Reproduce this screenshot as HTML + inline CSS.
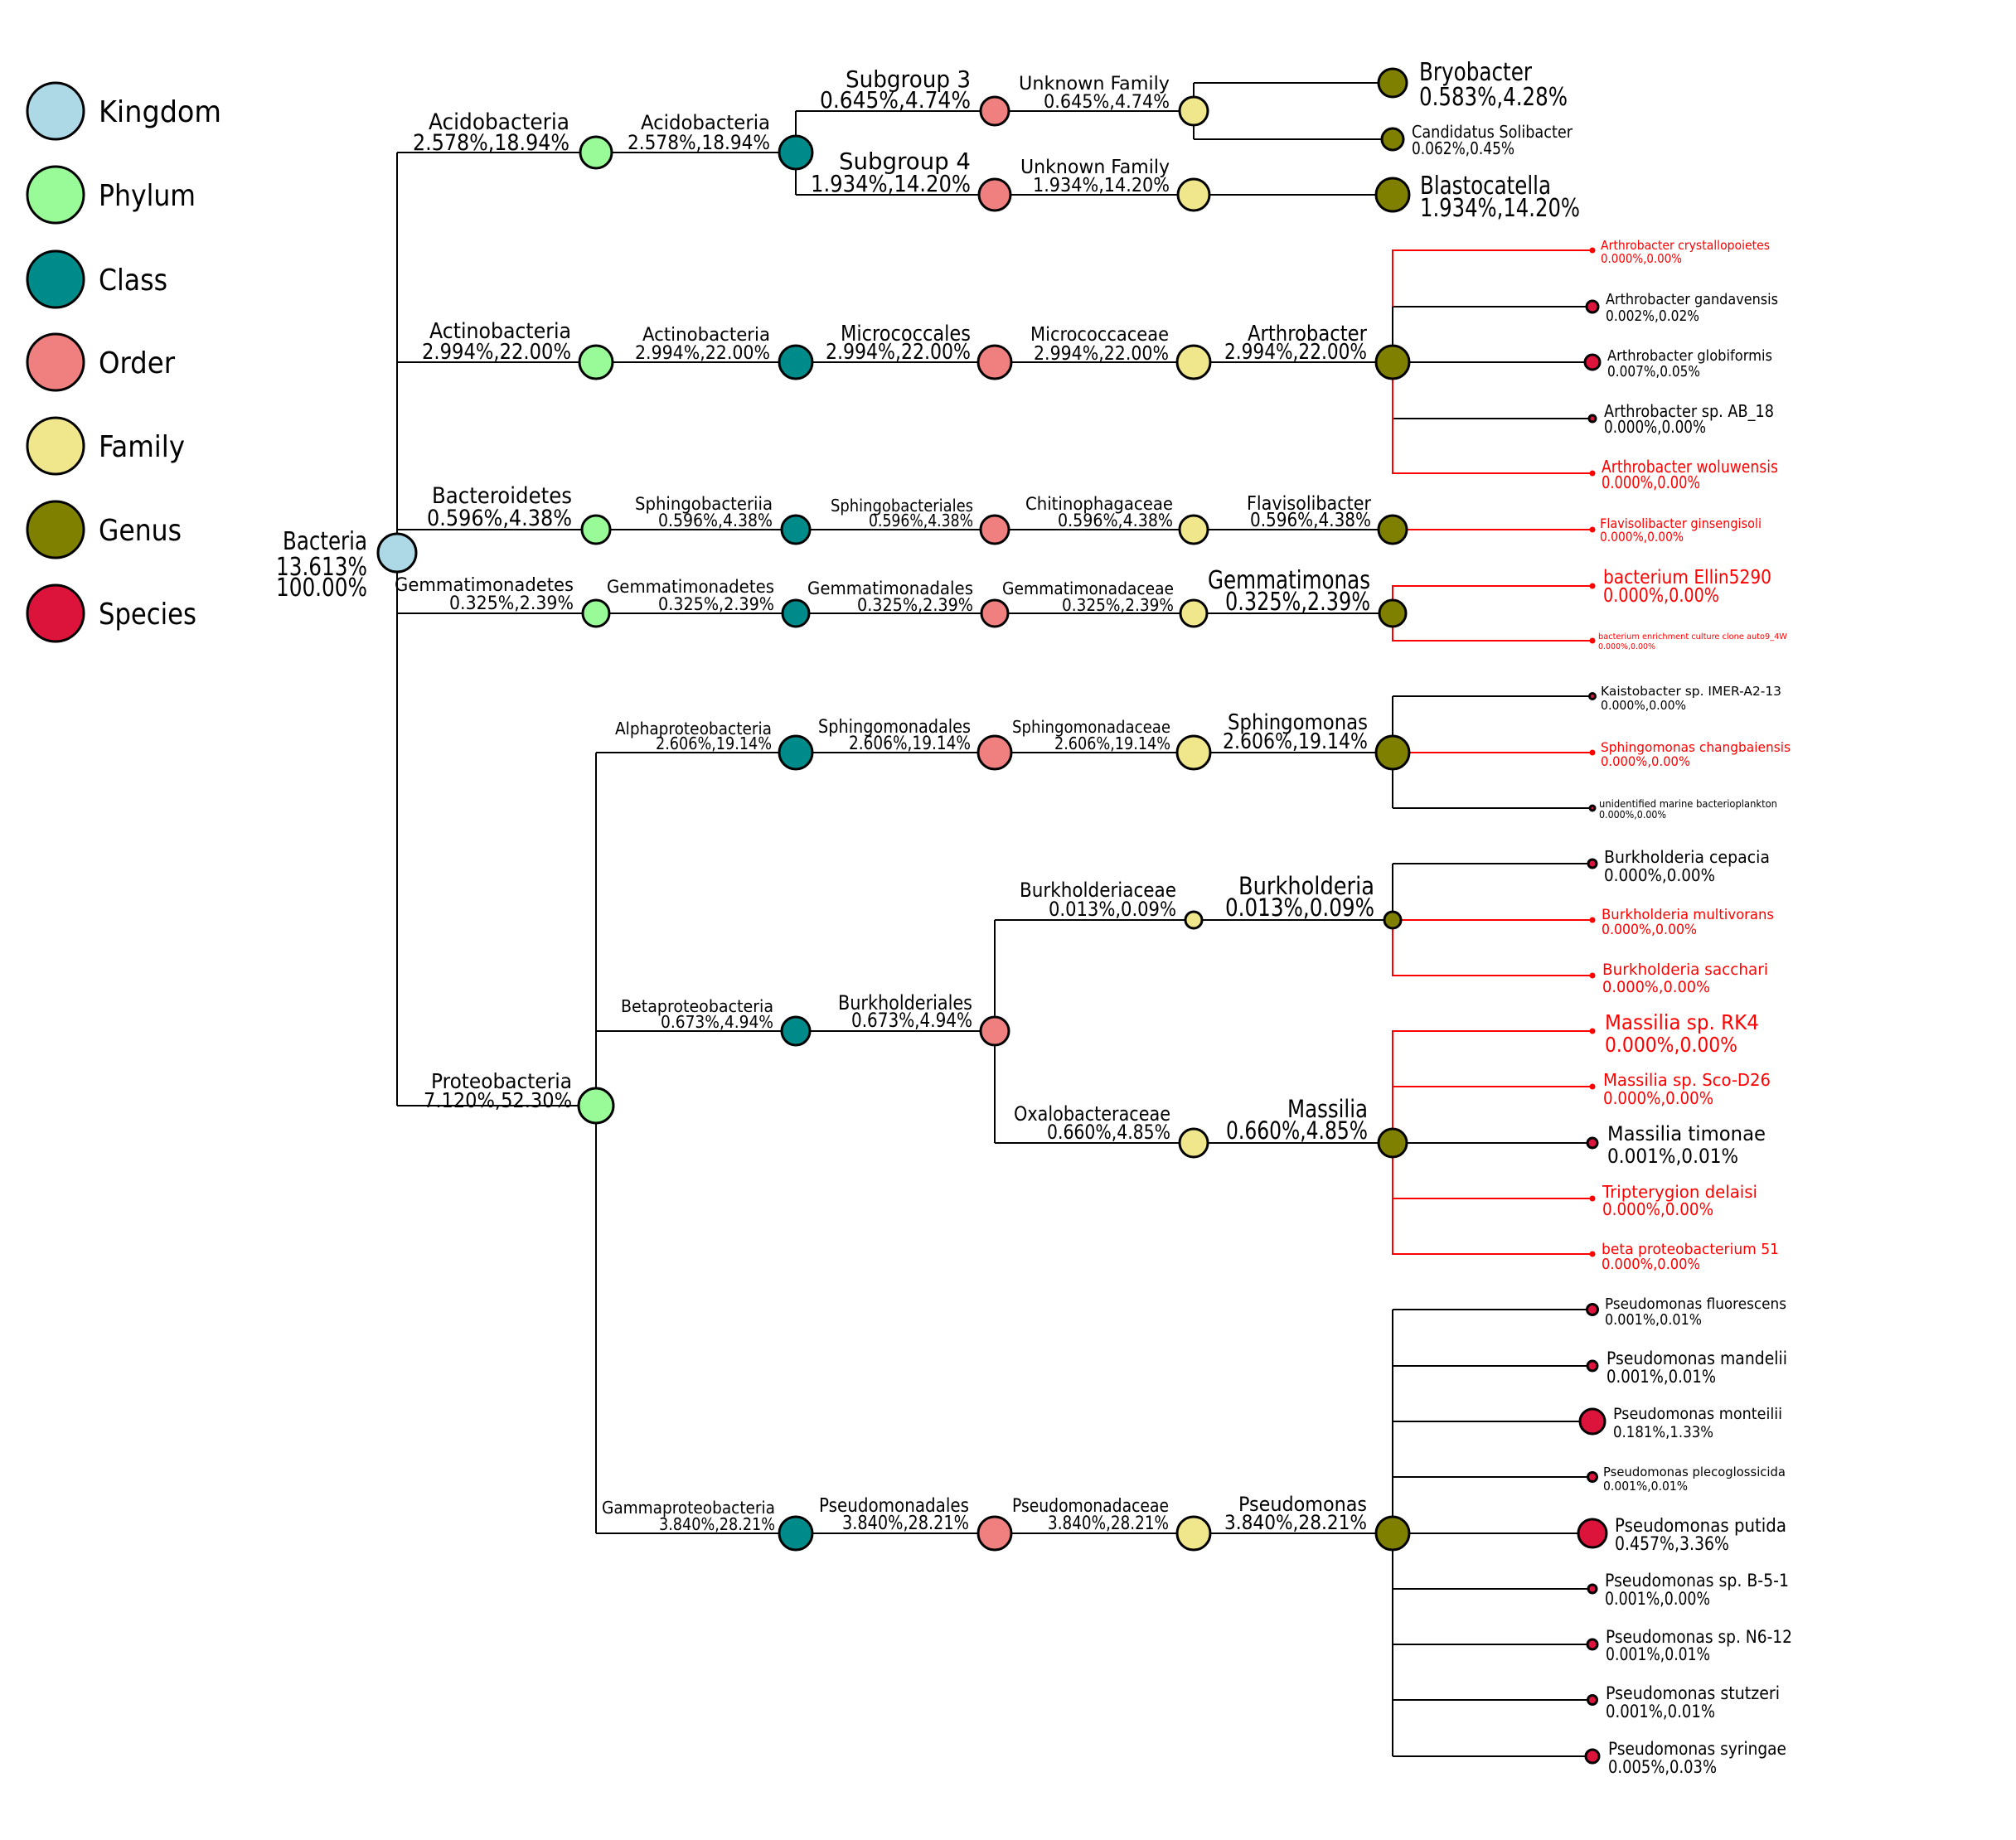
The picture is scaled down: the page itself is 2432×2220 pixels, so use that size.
<!DOCTYPE html>
<html><head><meta charset="utf-8"><style>
html,body{margin:0;padding:0;background:#fff;}
svg{display:block;font-family:"DejaVu Sans Condensed","Liberation Sans Narrow","Liberation Sans",sans-serif;}
</style></head><body>
<svg width="2432" height="2220" viewBox="0 0 2432 2220" xmlns="http://www.w3.org/2000/svg">
<g stroke="#000" stroke-width="2" fill="none">
<!-- root vertical -->
<line x1="479" y1="184" x2="479" y2="1334"/>
<line x1="479" y1="184" x2="719" y2="184"/>
<line x1="479" y1="437" x2="719" y2="437"/>
<line x1="479" y1="639" x2="719" y2="639"/>
<line x1="479" y1="740" x2="719" y2="740"/>
<line x1="479" y1="1334" x2="719" y2="1334"/>
<!-- phylum -> class -->
<line x1="719" y1="184" x2="960" y2="184"/>
<line x1="719" y1="437" x2="960" y2="437"/>
<line x1="719" y1="639" x2="960" y2="639"/>
<line x1="719" y1="740" x2="960" y2="740"/>
<line x1="719" y1="908" x2="719" y2="1850"/>
<line x1="719" y1="908" x2="960" y2="908"/>
<line x1="719" y1="1244" x2="960" y2="1244"/>
<line x1="719" y1="1850" x2="960" y2="1850"/>
<!-- class -> order -->
<line x1="960" y1="134" x2="960" y2="235"/>
<line x1="960" y1="134" x2="1200" y2="134"/>
<line x1="960" y1="235" x2="1200" y2="235"/>
<line x1="960" y1="437" x2="1200" y2="437"/>
<line x1="960" y1="639" x2="1200" y2="639"/>
<line x1="960" y1="740" x2="1200" y2="740"/>
<line x1="960" y1="908" x2="1200" y2="908"/>
<line x1="960" y1="1244" x2="1200" y2="1244"/>
<line x1="960" y1="1850" x2="1200" y2="1850"/>
<!-- order -> family -->
<line x1="1200" y1="134" x2="1440" y2="134"/>
<line x1="1200" y1="235" x2="1440" y2="235"/>
<line x1="1200" y1="437" x2="1440" y2="437"/>
<line x1="1200" y1="639" x2="1440" y2="639"/>
<line x1="1200" y1="740" x2="1440" y2="740"/>
<line x1="1200" y1="908" x2="1440" y2="908"/>
<line x1="1200" y1="1110" x2="1200" y2="1379"/>
<line x1="1200" y1="1110" x2="1440" y2="1110"/>
<line x1="1200" y1="1379" x2="1440" y2="1379"/>
<line x1="1200" y1="1850" x2="1440" y2="1850"/>
<!-- family -> genus -->
<line x1="1440" y1="100" x2="1440" y2="168"/>
<line x1="1440" y1="100" x2="1680" y2="100"/>
<line x1="1440" y1="168" x2="1680" y2="168"/>
<line x1="1440" y1="235" x2="1680" y2="235"/>
<line x1="1440" y1="437" x2="1680" y2="437"/>
<line x1="1440" y1="639" x2="1680" y2="639"/>
<line x1="1440" y1="740" x2="1680" y2="740"/>
<line x1="1440" y1="908" x2="1680" y2="908"/>
<line x1="1440" y1="1110" x2="1680" y2="1110"/>
<line x1="1440" y1="1379" x2="1680" y2="1379"/>
<line x1="1440" y1="1850" x2="1680" y2="1850"/>
<!-- genus -> species black -->
<line x1="1680" y1="370" x2="1680" y2="437"/>
<line x1="1680" y1="370" x2="1920" y2="370"/>
<line x1="1680" y1="437" x2="1920" y2="437"/>
<line x1="1680" y1="505" x2="1920" y2="505"/>
<line x1="1680" y1="840" x2="1680" y2="975"/>
<line x1="1680" y1="840" x2="1920" y2="840"/>
<line x1="1680" y1="975" x2="1920" y2="975"/>
<line x1="1680" y1="1042" x2="1680" y2="1110"/>
<line x1="1680" y1="1042" x2="1920" y2="1042"/>
<line x1="1680" y1="1379" x2="1920" y2="1379"/>
<line x1="1680" y1="1580" x2="1680" y2="2119"/>
<line x1="1680" y1="1580" x2="1920" y2="1580"/>
<line x1="1680" y1="1648" x2="1920" y2="1648"/>
<line x1="1680" y1="1715" x2="1920" y2="1715"/>
<line x1="1680" y1="1782" x2="1920" y2="1782"/>
<line x1="1680" y1="1850" x2="1920" y2="1850"/>
<line x1="1680" y1="1917" x2="1920" y2="1917"/>
<line x1="1680" y1="1984" x2="1920" y2="1984"/>
<line x1="1680" y1="2051" x2="1920" y2="2051"/>
<line x1="1680" y1="2119" x2="1920" y2="2119"/>
</g>
<g stroke="#ff0000" stroke-width="2" fill="none">
<polyline points="1680,370 1680,302 1920,302"/>
<polyline points="1680,437 1680,571 1920,571"/>
<line x1="1680" y1="639" x2="1920" y2="639"/>
<polyline points="1680,740 1680,707 1920,707"/>
<polyline points="1680,740 1680,773 1920,773"/>
<line x1="1680" y1="908" x2="1920" y2="908"/>
<polyline points="1680,1110 1680,1177 1920,1177"/>
<line x1="1680" y1="1110" x2="1920" y2="1110"/>
<polyline points="1680,1379 1680,1244 1920,1244"/>
<line x1="1680" y1="1311" x2="1920" y2="1311"/>
<polyline points="1680,1379 1680,1513 1920,1513"/>
<line x1="1680" y1="1446" x2="1920" y2="1446"/>
</g>
<!-- red dots -->
<g fill="#ff0000">
<circle cx="1921" cy="302" r="3.5"/><circle cx="1921" cy="571" r="3.5"/><circle cx="1921" cy="639" r="3.5"/>
<circle cx="1921" cy="707" r="3.5"/><circle cx="1921" cy="773" r="3.5"/><circle cx="1921" cy="908" r="3.5"/>
<circle cx="1921" cy="1110" r="3.5"/><circle cx="1921" cy="1177" r="3.5"/><circle cx="1921" cy="1244" r="3.5"/>
<circle cx="1921" cy="1311" r="3.5"/><circle cx="1921" cy="1446" r="3.5"/><circle cx="1921" cy="1513" r="3.5"/>
</g>
<!-- nodes -->
<g stroke="#000" stroke-width="3">
<circle cx="67" cy="134" r="34" fill="#add8e6"/>
<circle cx="67" cy="235" r="34" fill="#98fb98"/>
<circle cx="67" cy="337" r="34" fill="#008b8b"/>
<circle cx="67" cy="437" r="34" fill="#f08080"/>
<circle cx="67" cy="538" r="34" fill="#f0e68c"/>
<circle cx="67" cy="639" r="34" fill="#808000"/>
<circle cx="67" cy="740" r="34" fill="#dc143c"/>

<circle cx="479" cy="667" r="23" fill="#add8e6"/>

<circle cx="719" cy="184" r="19" fill="#98fb98"/>
<circle cx="719" cy="437" r="20" fill="#98fb98"/>
<circle cx="719" cy="639" r="17" fill="#98fb98"/>
<circle cx="719" cy="740" r="16" fill="#98fb98"/>
<circle cx="719" cy="1334" r="21" fill="#98fb98"/>

<circle cx="960" cy="184" r="20" fill="#008b8b"/>
<circle cx="960" cy="437" r="20" fill="#008b8b"/>
<circle cx="960" cy="639" r="17" fill="#008b8b"/>
<circle cx="960" cy="740" r="16" fill="#008b8b"/>
<circle cx="960" cy="908" r="20" fill="#008b8b"/>
<circle cx="960" cy="1244" r="17" fill="#008b8b"/>
<circle cx="960" cy="1850" r="20" fill="#008b8b"/>

<circle cx="1200" cy="134" r="17" fill="#f08080"/>
<circle cx="1200" cy="235" r="19" fill="#f08080"/>
<circle cx="1200" cy="437" r="20" fill="#f08080"/>
<circle cx="1200" cy="639" r="17" fill="#f08080"/>
<circle cx="1200" cy="740" r="16" fill="#f08080"/>
<circle cx="1200" cy="908" r="20" fill="#f08080"/>
<circle cx="1200" cy="1244" r="17" fill="#f08080"/>
<circle cx="1200" cy="1850" r="20" fill="#f08080"/>

<circle cx="1440" cy="134" r="17" fill="#f0e68c"/>
<circle cx="1440" cy="235" r="19" fill="#f0e68c"/>
<circle cx="1440" cy="437" r="20" fill="#f0e68c"/>
<circle cx="1440" cy="639" r="17" fill="#f0e68c"/>
<circle cx="1440" cy="740" r="16" fill="#f0e68c"/>
<circle cx="1440" cy="908" r="20" fill="#f0e68c"/>
<circle cx="1440" cy="1110" r="10" fill="#f0e68c"/>
<circle cx="1440" cy="1379" r="17" fill="#f0e68c"/>
<circle cx="1440" cy="1850" r="20" fill="#f0e68c"/>

<circle cx="1680" cy="100" r="17" fill="#808000"/>
<circle cx="1680" cy="168" r="13" fill="#808000"/>
<circle cx="1680" cy="235" r="20" fill="#808000"/>
<circle cx="1680" cy="437" r="20" fill="#808000"/>
<circle cx="1680" cy="639" r="17" fill="#808000"/>
<circle cx="1680" cy="740" r="16" fill="#808000"/>
<circle cx="1680" cy="908" r="20" fill="#808000"/>
<circle cx="1680" cy="1110" r="10" fill="#808000"/>
<circle cx="1680" cy="1379" r="17" fill="#808000"/>
<circle cx="1680" cy="1850" r="20" fill="#808000"/>

<circle cx="1921" cy="370" r="7" fill="#dc143c"/>
<circle cx="1921" cy="437" r="9" fill="#dc143c"/>
<circle cx="1921" cy="505" r="4" fill="#dc143c"/>
<circle cx="1921" cy="840" r="3.5" fill="#dc143c"/>
<circle cx="1921" cy="975" r="3" fill="#dc143c"/>
<circle cx="1921" cy="1042" r="5" fill="#dc143c"/>
<circle cx="1921" cy="1379" r="6" fill="#dc143c"/>
<circle cx="1921" cy="1580" r="6.5" fill="#dc143c"/>
<circle cx="1921" cy="1648" r="6" fill="#dc143c"/>
<circle cx="1921" cy="1715" r="15" fill="#dc143c"/>
<circle cx="1921" cy="1782" r="5.5" fill="#dc143c"/>
<circle cx="1921" cy="1850" r="17" fill="#dc143c"/>
<circle cx="1921" cy="1917" r="5" fill="#dc143c"/>
<circle cx="1921" cy="1984" r="6" fill="#dc143c"/>
<circle cx="1921" cy="2051" r="5.5" fill="#dc143c"/>
<circle cx="1921" cy="2119" r="8" fill="#dc143c"/>
</g>
<!-- legend text -->
<g font-size="36" fill="#000" font-family="DejaVu Sans Condensed, Liberation Sans, sans-serif">
<text x="119" y="147" textLength="148" lengthAdjust="spacingAndGlyphs">Kingdom</text>
<text x="119" y="248" textLength="117" lengthAdjust="spacingAndGlyphs">Phylum</text>
<text x="119" y="350" textLength="83" lengthAdjust="spacingAndGlyphs">Class</text>
<text x="119" y="450" textLength="92" lengthAdjust="spacingAndGlyphs">Order</text>
<text x="119" y="551" textLength="104" lengthAdjust="spacingAndGlyphs">Family</text>
<text x="119" y="652" textLength="100" lengthAdjust="spacingAndGlyphs">Genus</text>
<text x="119" y="753" textLength="118" lengthAdjust="spacingAndGlyphs">Species</text>
</g>
<!-- right-anchored labels -->
<g fill="#000" text-anchor="end" lengthAdjust="spacingAndGlyphs">
<text x="443" y="663" font-size="30" textLength="102" lengthAdjust="spacingAndGlyphs">Bacteria</text>
<text x="443" y="694" font-size="30" textLength="110" lengthAdjust="spacingAndGlyphs">13.613%</text>
<text x="443" y="719" font-size="30" textLength="110" lengthAdjust="spacingAndGlyphs">100.00%</text>

<text x="687" y="156" font-size="27" textLength="170" lengthAdjust="spacingAndGlyphs">Acidobacteria</text>
<text x="687" y="181" font-size="27" textLength="189" lengthAdjust="spacingAndGlyphs">2.578%,18.94%</text>
<text x="689" y="408" font-size="26" textLength="171" lengthAdjust="spacingAndGlyphs">Actinobacteria</text>
<text x="689" y="433" font-size="26" textLength="180" lengthAdjust="spacingAndGlyphs">2.994%,22.00%</text>
<text x="690" y="607" font-size="27" textLength="169" lengthAdjust="spacingAndGlyphs">Bacteroidetes</text>
<text x="690" y="634" font-size="27" textLength="175" lengthAdjust="spacingAndGlyphs">0.596%,4.38%</text>
<text x="692" y="713" font-size="22" textLength="216" lengthAdjust="spacingAndGlyphs">Gemmatimonadetes</text>
<text x="692" y="735" font-size="22" textLength="150" lengthAdjust="spacingAndGlyphs">0.325%,2.39%</text>
<text x="690" y="1313" font-size="25" textLength="170" lengthAdjust="spacingAndGlyphs">Proteobacteria</text>
<text x="690" y="1336" font-size="25" textLength="179" lengthAdjust="spacingAndGlyphs">7.120%,52.30%</text>

<text x="929" y="156" font-size="24" textLength="156" lengthAdjust="spacingAndGlyphs">Acidobacteria</text>
<text x="929" y="180" font-size="24" textLength="172" lengthAdjust="spacingAndGlyphs">2.578%,18.94%</text>
<text x="929" y="411" font-size="22" textLength="154" lengthAdjust="spacingAndGlyphs">Actinobacteria</text>
<text x="929" y="433" font-size="22" textLength="163" lengthAdjust="spacingAndGlyphs">2.994%,22.00%</text>
<text x="932" y="615" font-size="21" textLength="166" lengthAdjust="spacingAndGlyphs">Sphingobacteriia</text>
<text x="932" y="635" font-size="21" textLength="138" lengthAdjust="spacingAndGlyphs">0.596%,4.38%</text>
<text x="934" y="715" font-size="21" textLength="202" lengthAdjust="spacingAndGlyphs">Gemmatimonadetes</text>
<text x="934" y="736" font-size="21" textLength="140" lengthAdjust="spacingAndGlyphs">0.325%,2.39%</text>
<text x="931" y="886" font-size="20" textLength="189" lengthAdjust="spacingAndGlyphs">Alphaproteobacteria</text>
<text x="931" y="904" font-size="20" textLength="140" lengthAdjust="spacingAndGlyphs">2.606%,19.14%</text>
<text x="933" y="1221" font-size="20" textLength="184" lengthAdjust="spacingAndGlyphs">Betaproteobacteria</text>
<text x="933" y="1240" font-size="20" textLength="136" lengthAdjust="spacingAndGlyphs">0.673%,4.94%</text>
<text x="935" y="1826" font-size="20" textLength="209" lengthAdjust="spacingAndGlyphs">Gammaproteobacteria</text>
<text x="935" y="1846" font-size="20" textLength="140" lengthAdjust="spacingAndGlyphs">3.840%,28.21%</text>

<text x="1171" y="105" font-size="28" textLength="151" lengthAdjust="spacingAndGlyphs">Subgroup 3</text>
<text x="1171" y="130" font-size="28" textLength="182" lengthAdjust="spacingAndGlyphs">0.645%,4.74%</text>
<text x="1171" y="204" font-size="28" textLength="159" lengthAdjust="spacingAndGlyphs">Subgroup 4</text>
<text x="1171" y="231" font-size="28" textLength="193" lengthAdjust="spacingAndGlyphs">1.934%,14.20%</text>
<text x="1171" y="411" font-size="26" textLength="157" lengthAdjust="spacingAndGlyphs">Micrococcales</text>
<text x="1171" y="433" font-size="26" textLength="175" lengthAdjust="spacingAndGlyphs">2.994%,22.00%</text>
<text x="1174" y="617" font-size="20" textLength="172" lengthAdjust="spacingAndGlyphs">Sphingobacteriales</text>
<text x="1174" y="635" font-size="20" textLength="126" lengthAdjust="spacingAndGlyphs">0.596%,4.38%</text>
<text x="1174" y="717" font-size="21" textLength="200" lengthAdjust="spacingAndGlyphs">Gemmatimonadales</text>
<text x="1174" y="737" font-size="21" textLength="140" lengthAdjust="spacingAndGlyphs">0.325%,2.39%</text>
<text x="1171" y="884" font-size="22" textLength="184" lengthAdjust="spacingAndGlyphs">Sphingomonadales</text>
<text x="1171" y="904" font-size="22" textLength="147" lengthAdjust="spacingAndGlyphs">2.606%,19.14%</text>
<text x="1173" y="1218" font-size="24" textLength="162" lengthAdjust="spacingAndGlyphs">Burkholderiales</text>
<text x="1173" y="1239" font-size="24" textLength="146" lengthAdjust="spacingAndGlyphs">0.673%,4.94%</text>
<text x="1169" y="1824" font-size="23" textLength="181" lengthAdjust="spacingAndGlyphs">Pseudomonadales</text>
<text x="1169" y="1845" font-size="23" textLength="153" lengthAdjust="spacingAndGlyphs">3.840%,28.21%</text>

<text x="1411" y="108" font-size="22" textLength="182" lengthAdjust="spacingAndGlyphs">Unknown Family</text>
<text x="1411" y="130" font-size="22" textLength="152" lengthAdjust="spacingAndGlyphs">0.645%,4.74%</text>
<text x="1411" y="209" font-size="23" textLength="180" lengthAdjust="spacingAndGlyphs">Unknown Family</text>
<text x="1411" y="231" font-size="23" textLength="165" lengthAdjust="spacingAndGlyphs">1.934%,14.20%</text>
<text x="1410" y="411" font-size="23" textLength="167" lengthAdjust="spacingAndGlyphs">Micrococcaceae</text>
<text x="1410" y="434" font-size="23" textLength="163" lengthAdjust="spacingAndGlyphs">2.994%,22.00%</text>
<text x="1415" y="615" font-size="21" textLength="178" lengthAdjust="spacingAndGlyphs">Chitinophagaceae</text>
<text x="1415" y="635" font-size="21" textLength="139" lengthAdjust="spacingAndGlyphs">0.596%,4.38%</text>
<text x="1416" y="717" font-size="20" textLength="207" lengthAdjust="spacingAndGlyphs">Gemmatimonadaceae</text>
<text x="1416" y="737" font-size="20" textLength="135" lengthAdjust="spacingAndGlyphs">0.325%,2.39%</text>
<text x="1412" y="884" font-size="20" textLength="191" lengthAdjust="spacingAndGlyphs">Sphingomonadaceae</text>
<text x="1412" y="904" font-size="20" textLength="140" lengthAdjust="spacingAndGlyphs">2.606%,19.14%</text>
<text x="1419" y="1082" font-size="24" textLength="189" lengthAdjust="spacingAndGlyphs">Burkholderiaceae</text>
<text x="1419" y="1105" font-size="24" textLength="154" lengthAdjust="spacingAndGlyphs">0.013%,0.09%</text>
<text x="1412" y="1352" font-size="24" textLength="189" lengthAdjust="spacingAndGlyphs">Oxalobacteraceae</text>
<text x="1412" y="1374" font-size="24" textLength="149" lengthAdjust="spacingAndGlyphs">0.660%,4.85%</text>
<text x="1410" y="1824" font-size="22" textLength="189" lengthAdjust="spacingAndGlyphs">Pseudomonadaceae</text>
<text x="1410" y="1845" font-size="22" textLength="146" lengthAdjust="spacingAndGlyphs">3.840%,28.21%</text>

<text x="1649" y="411" font-size="26" textLength="144" lengthAdjust="spacingAndGlyphs">Arthrobacter</text>
<text x="1649" y="433" font-size="26" textLength="172" lengthAdjust="spacingAndGlyphs">2.994%,22.00%</text>
<text x="1654" y="615" font-size="23" textLength="150" lengthAdjust="spacingAndGlyphs">Flavisolibacter</text>
<text x="1654" y="635" font-size="23" textLength="146" lengthAdjust="spacingAndGlyphs">0.596%,4.38%</text>
<text x="1653" y="710" font-size="30" textLength="196" lengthAdjust="spacingAndGlyphs">Gemmatimonas</text>
<text x="1653" y="736" font-size="30" textLength="175" lengthAdjust="spacingAndGlyphs">0.325%,2.39%</text>
<text x="1650" y="880" font-size="26" textLength="169" lengthAdjust="spacingAndGlyphs">Sphingomonas</text>
<text x="1650" y="903" font-size="26" textLength="175" lengthAdjust="spacingAndGlyphs">2.606%,19.14%</text>
<text x="1658" y="1079" font-size="29" textLength="164" lengthAdjust="spacingAndGlyphs">Burkholderia</text>
<text x="1658" y="1105" font-size="29" textLength="180" lengthAdjust="spacingAndGlyphs">0.013%,0.09%</text>
<text x="1650" y="1348" font-size="29" textLength="97" lengthAdjust="spacingAndGlyphs">Massilia</text>
<text x="1650" y="1374" font-size="29" textLength="171" lengthAdjust="spacingAndGlyphs">0.660%,4.85%</text>
<text x="1649" y="1823" font-size="24" textLength="155" lengthAdjust="spacingAndGlyphs">Pseudomonas</text>
<text x="1649" y="1845" font-size="24" textLength="172" lengthAdjust="spacingAndGlyphs">3.840%,28.21%</text>
</g>
<!-- left-anchored genus labels -->
<g fill="#000">
<text x="1712" y="97" font-size="30" textLength="136" lengthAdjust="spacingAndGlyphs">Bryobacter</text>
<text x="1712" y="127" font-size="30" textLength="179" lengthAdjust="spacingAndGlyphs">0.583%,4.28%</text>
<text x="1703" y="166" font-size="20" textLength="194" lengthAdjust="spacingAndGlyphs">Candidatus Solibacter</text>
<text x="1703" y="186" font-size="20" textLength="124" lengthAdjust="spacingAndGlyphs">0.062%,0.45%</text>
<text x="1713" y="234" font-size="30" textLength="158" lengthAdjust="spacingAndGlyphs">Blastocatella</text>
<text x="1713" y="261" font-size="30" textLength="193" lengthAdjust="spacingAndGlyphs">1.934%,14.20%</text>
</g>
<!-- species labels -->
<g font-family="DejaVu Sans, Liberation Sans, sans-serif">
<text x="1931" y="301" font-size="15" fill="#f00" textLength="204" lengthAdjust="spacingAndGlyphs">Arthrobacter crystallopoietes</text>
<text x="1931" y="317" font-size="15" fill="#f00" textLength="98" lengthAdjust="spacingAndGlyphs">0.000%,0.00%</text>
<text x="1937" y="367" font-size="18" fill="#000" textLength="208" lengthAdjust="spacingAndGlyphs">Arthrobacter gandavensis</text>
<text x="1937" y="387" font-size="18" fill="#000" textLength="113" lengthAdjust="spacingAndGlyphs">0.002%,0.02%</text>
<text x="1939" y="435" font-size="18" fill="#000" textLength="199" lengthAdjust="spacingAndGlyphs">Arthrobacter globiformis</text>
<text x="1939" y="454" font-size="18" fill="#000" textLength="112" lengthAdjust="spacingAndGlyphs">0.007%,0.05%</text>
<text x="1935" y="503" font-size="20" fill="#000" textLength="205" lengthAdjust="spacingAndGlyphs">Arthrobacter sp. AB_18</text>
<text x="1935" y="522" font-size="20" fill="#000" textLength="123" lengthAdjust="spacingAndGlyphs">0.000%,0.00%</text>
<text x="1932" y="570" font-size="20" fill="#f00" textLength="213" lengthAdjust="spacingAndGlyphs">Arthrobacter woluwensis</text>
<text x="1932" y="589" font-size="20" fill="#f00" textLength="119" lengthAdjust="spacingAndGlyphs">0.000%,0.00%</text>
<text x="1930" y="637" font-size="16" fill="#f00" textLength="195" lengthAdjust="spacingAndGlyphs">Flavisolibacter ginsengisoli</text>
<text x="1930" y="653" font-size="16" fill="#f00" textLength="101" lengthAdjust="spacingAndGlyphs">0.000%,0.00%</text>
<text x="1934" y="704" font-size="23" fill="#f00" textLength="203" lengthAdjust="spacingAndGlyphs">bacterium Ellin5290</text>
<text x="1934" y="726" font-size="23" fill="#f00" textLength="140" lengthAdjust="spacingAndGlyphs">0.000%,0.00%</text>
<text x="1928" y="771" font-size="10" fill="#f00" textLength="228" lengthAdjust="spacingAndGlyphs">bacterium enrichment culture clone auto9_4W</text>
<text x="1928" y="783" font-size="10" fill="#f00" textLength="69" lengthAdjust="spacingAndGlyphs">0.000%,0.00%</text>

<text x="1931" y="839" font-size="15" fill="#000" textLength="218" lengthAdjust="spacingAndGlyphs">Kaistobacter sp. IMER-A2-13</text>
<text x="1931" y="856" font-size="15" fill="#000" textLength="103" lengthAdjust="spacingAndGlyphs">0.000%,0.00%</text>
<text x="1931" y="907" font-size="16" fill="#f00" textLength="229" lengthAdjust="spacingAndGlyphs">Sphingomonas changbaiensis</text>
<text x="1931" y="924" font-size="16" fill="#f00" textLength="108" lengthAdjust="spacingAndGlyphs">0.000%,0.00%</text>
<text x="1929" y="974" font-size="12" fill="#000" textLength="215" lengthAdjust="spacingAndGlyphs">unidentified marine bacterioplankton</text>
<text x="1929" y="987" font-size="12" fill="#000" textLength="81" lengthAdjust="spacingAndGlyphs">0.000%,0.00%</text>
<text x="1935" y="1041" font-size="20" fill="#000" textLength="200" lengthAdjust="spacingAndGlyphs">Burkholderia cepacia</text>
<text x="1935" y="1063" font-size="20" fill="#000" textLength="134" lengthAdjust="spacingAndGlyphs">0.000%,0.00%</text>
<text x="1932" y="1109" font-size="17" fill="#f00" textLength="208" lengthAdjust="spacingAndGlyphs">Burkholderia multivorans</text>
<text x="1932" y="1127" font-size="17" fill="#f00" textLength="115" lengthAdjust="spacingAndGlyphs">0.000%,0.00%</text>
<text x="1933" y="1176" font-size="19" fill="#f00" textLength="200" lengthAdjust="spacingAndGlyphs">Burkholderia sacchari</text>
<text x="1933" y="1197" font-size="19" fill="#f00" textLength="130" lengthAdjust="spacingAndGlyphs">0.000%,0.00%</text>
<text x="1936" y="1242" font-size="25" fill="#f00" textLength="186" lengthAdjust="spacingAndGlyphs">Massilia sp. RK4</text>
<text x="1936" y="1269" font-size="25" fill="#f00" textLength="160" lengthAdjust="spacingAndGlyphs">0.000%,0.00%</text>
<text x="1934" y="1310" font-size="20" fill="#f00" textLength="202" lengthAdjust="spacingAndGlyphs">Massilia sp. Sco-D26</text>
<text x="1934" y="1332" font-size="20" fill="#f00" textLength="133" lengthAdjust="spacingAndGlyphs">0.000%,0.00%</text>
<text x="1939" y="1376" font-size="24" fill="#000" textLength="191" lengthAdjust="spacingAndGlyphs">Massilia timonae</text>
<text x="1939" y="1403" font-size="24" fill="#000" textLength="158" lengthAdjust="spacingAndGlyphs">0.001%,0.01%</text>
<text x="1933" y="1445" font-size="20" fill="#f00" textLength="187" lengthAdjust="spacingAndGlyphs">Tripterygion delaisi</text>
<text x="1933" y="1466" font-size="20" fill="#f00" textLength="134" lengthAdjust="spacingAndGlyphs">0.000%,0.00%</text>
<text x="1932" y="1513" font-size="18" fill="#f00" textLength="214" lengthAdjust="spacingAndGlyphs">beta proteobacterium 51</text>
<text x="1932" y="1531" font-size="18" fill="#f00" textLength="119" lengthAdjust="spacingAndGlyphs">0.000%,0.00%</text>

<text x="1936" y="1579" font-size="18" fill="#000" textLength="219" lengthAdjust="spacingAndGlyphs">Pseudomonas fluorescens</text>
<text x="1936" y="1598" font-size="18" fill="#000" textLength="117" lengthAdjust="spacingAndGlyphs">0.001%,0.01%</text>
<text x="1938" y="1646" font-size="21" fill="#000" textLength="218" lengthAdjust="spacingAndGlyphs">Pseudomonas mandelii</text>
<text x="1938" y="1668" font-size="21" fill="#000" textLength="132" lengthAdjust="spacingAndGlyphs">0.001%,0.01%</text>
<text x="1946" y="1712" font-size="19" fill="#000" textLength="204" lengthAdjust="spacingAndGlyphs">Pseudomonas monteilii</text>
<text x="1946" y="1734" font-size="19" fill="#000" textLength="121" lengthAdjust="spacingAndGlyphs">0.181%,1.33%</text>
<text x="1934" y="1781" font-size="15" fill="#000" textLength="220" lengthAdjust="spacingAndGlyphs">Pseudomonas plecoglossicida</text>
<text x="1934" y="1798" font-size="15" fill="#000" textLength="102" lengthAdjust="spacingAndGlyphs">0.001%,0.01%</text>
<text x="1948" y="1848" font-size="22" fill="#000" textLength="207" lengthAdjust="spacingAndGlyphs">Pseudomonas putida</text>
<text x="1948" y="1870" font-size="22" fill="#000" textLength="138" lengthAdjust="spacingAndGlyphs">0.457%,3.36%</text>
<text x="1936" y="1914" font-size="21" fill="#000" textLength="222" lengthAdjust="spacingAndGlyphs">Pseudomonas sp. B-5-1</text>
<text x="1936" y="1936" font-size="21" fill="#000" textLength="127" lengthAdjust="spacingAndGlyphs">0.001%,0.00%</text>
<text x="1937" y="1982" font-size="21" fill="#000" textLength="225" lengthAdjust="spacingAndGlyphs">Pseudomonas sp. N6-12</text>
<text x="1937" y="2003" font-size="21" fill="#000" textLength="126" lengthAdjust="spacingAndGlyphs">0.001%,0.01%</text>
<text x="1937" y="2050" font-size="21" fill="#000" textLength="210" lengthAdjust="spacingAndGlyphs">Pseudomonas stutzeri</text>
<text x="1937" y="2072" font-size="21" fill="#000" textLength="132" lengthAdjust="spacingAndGlyphs">0.001%,0.01%</text>
<text x="1940" y="2117" font-size="21" fill="#000" textLength="215" lengthAdjust="spacingAndGlyphs">Pseudomonas syringae</text>
<text x="1940" y="2139" font-size="21" fill="#000" textLength="131" lengthAdjust="spacingAndGlyphs">0.005%,0.03%</text>
</g>
</svg>
</body></html>
